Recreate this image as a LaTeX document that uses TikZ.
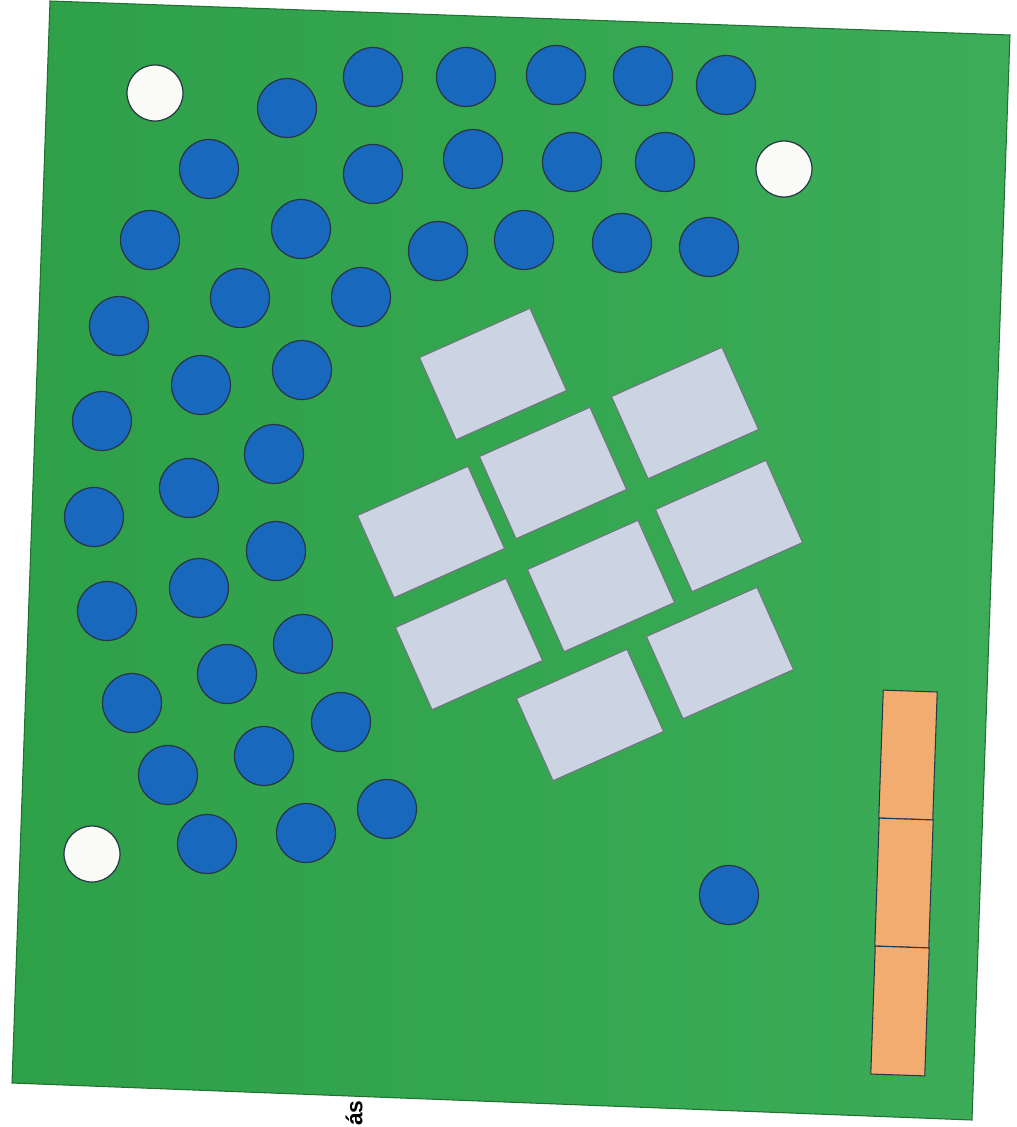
\documentclass[tikz,border=0pt]{standalone}
\usepackage{fontspec}
\setsansfont{Liberation Sans}
\definecolor{verde}{RGB}{46,160,72}
\definecolor{verdeclaro}{RGB}{60,172,88}
\definecolor{azul}{RGB}{24,104,190}
\definecolor{blanco}{RGB}{250,250,246}
\definecolor{gris}{RGB}{204,212,228}
\definecolor{naranja}{RGB}{243,172,112}
\definecolor{borde}{RGB}{40,55,70}
\begin{document}
\begin{tikzpicture}[x=0.02cm,y=-0.02cm,
  ficha/.style={circle,fill=azul,draw=borde,line width=0.7pt,minimum size=1.18cm,inner sep=0pt},
  blanca/.style={circle,fill=blanco,draw=borde,line width=0.7pt,minimum size=1.12cm,inner sep=0pt},
  placa/.style={rectangle,fill=gris,draw=gris!55!black,line width=0.6pt,minimum width=2.42cm,minimum height=1.8cm,inner sep=0pt,rotate=24},
  barra/.style={rectangle,fill=naranja,draw=borde,line width=0.6pt,minimum width=1.08cm,minimum height=2.56cm,inner sep=0pt,rotate=-2}]
  \useasboundingbox (0,0) rectangle (1017,1127);

  % Tablero
  \shade[left color=verde,right color=verdeclaro,draw=verde!70!black,line width=0.6pt]
    (50,1) -- (1010,35) -- (972,1120) -- (12,1083) -- cycle;

  % Fichas azules
  \foreach \x/\y [count=\i] in {373/77, 466/77, 556/75, 643/76, 726/85, 287/108,
      209/169, 373/174, 473/159, 572/162, 665/162,
      150/240, 301/229, 438/251, 524/240, 622/243, 709/247, 240/298, 361/297,
      119/326, 201/385, 302/370, 102/421, 274/454, 189/488, 94/517, 276/551,
      199/588, 107/611, 303/644, 227/674, 132/703, 341/722, 264/756, 168/775,
      387/809, 306/833, 207/844, 729/895}
    \node[ficha] (b\i) at (\x,\y) {};

  % Fichas blancas
  \node[blanca] (w1) at (155,93) {};
  \node[blanca] (w2) at (784,169) {};
  \node[blanca] (w3) at (92,854) {};

  % Placas
  \node[placa] (p1) at (493,374) {};
  \node[placa] (p2) at (685,413) {};
  \node[placa] (p3) at (553,473) {};
  \node[placa] (p4) at (431,532) {};
  \node[placa] (p5) at (729,526) {};
  \node[placa] (p6) at (601,586) {};
  \node[placa] (p7) at (469,644) {};
  \node[placa] (p8) at (720,653) {};
  \node[placa] (p9) at (590,715) {};

  % Barra naranja
  \node[barra] (n1) at (908,755) {};
  \node[barra] (n2) at (904,883) {};
  \node[barra] (n3) at (900,1011) {};

  % Rótulo
  \node[rotate=90,font=\sffamily\bfseries\fontsize{13}{13}\selectfont] (rotulo) at (354,1113) {ás};
\end{tikzpicture}
\end{document}
